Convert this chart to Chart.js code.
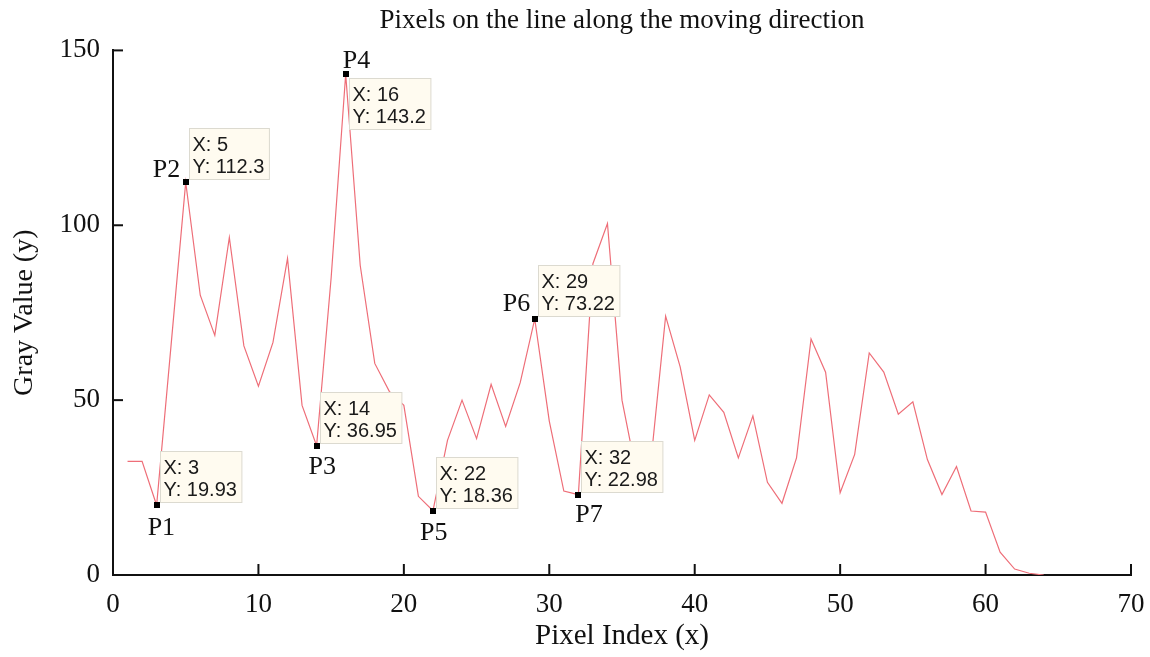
<!DOCTYPE html>
<html>
<head>
<meta charset="utf-8">
<script src="https://cdn.jsdelivr.net/npm/chart.js@4.4.1/dist/chart.umd.min.js"></script>
<style>
  html, body { margin: 0; padding: 0; background: #fff; }
</style>
</head>
<body>
<canvas id="chart" width="1150" height="657"></canvas>
<script>
// pixel index along the moving direction and its gray value
const pixelIndex = [
  1, 2, 3, 4, 5, 6, 7, 8, 9, 10, 11, 12, 13, 14, 15, 16,
  17, 18, 19, 20, 21, 22, 23, 24, 25, 26, 27, 28, 29, 30, 31, 32,
  33, 34, 35, 36, 37, 38, 39, 40, 41, 42, 43, 44, 45, 46, 47, 48,
  49, 50, 51, 52, 53, 54, 55, 56, 57, 58, 59, 60, 61, 62, 63, 64
];
const grayValue = [
  32.5, 32.5, 19.93, 66, 112.3, 80, 68.5, 96.5, 65.5, 54, 66.5, 90.5, 48.5, 36.95, 85, 143.2,
  88.5, 60.5, 52.5, 48.5, 22.5, 18.36, 38.5, 50, 39, 54.5, 42.5, 55, 73.22, 44, 24, 22.98,
  89, 100.5, 50, 29, 33, 74, 59.5, 38.5, 51.5, 46.5, 33.5, 45.5, 26.5, 20.5, 33.5, 67.5,
  58, 23.5, 34.5, 63.5, 58, 46, 49.5, 33, 23, 31, 18.3, 18, 6.5, 1.7, 0.5, 0
];

// marked points (data tips)
const markerNames = ['P1', 'P2', 'P3', 'P4', 'P5', 'P6', 'P7'];
const markerIndex = [3, 5, 14, 16, 22, 29, 32];
const markerValue = [19.93, 112.3, 36.95, 143.2, 18.36, 73.22, 22.98];

const xTicks = [0, 10, 20, 30, 40, 50, 60, 70];
const yTicks = [0, 50, 100, 150];

const serif = "'Liberation Serif', 'Times New Roman', serif";
const sans = "'Liberation Sans', Arial, sans-serif";

// where each P label sits relative to its point (text left / baseline offset)
const labelOffset = {
  P1: [-9, 30], P2: [-33, -5], P3: [-8, 28], P4: [-3, -6],
  P5: [-13, 29], P6: [-32, -8], P7: [-3, 27]
};

// draws the inward tick marks, the data tip boxes and the P labels
const annotations = {
  id: 'annotations',
  afterDatasetsDraw(chart) {
    const { ctx, chartArea, scales: { x, y } } = chart;
    ctx.save();

    // inward ticks
    ctx.strokeStyle = '#111';
    ctx.lineWidth = 2;
    xTicks.forEach(v => {
      const px = x.getPixelForValue(v);
      ctx.beginPath();
      ctx.moveTo(px, chartArea.bottom);
      ctx.lineTo(px, chartArea.bottom - 11);
      ctx.stroke();
    });
    yTicks.forEach(v => {
      const py = y.getPixelForValue(v);
      ctx.beginPath();
      ctx.moveTo(chartArea.left, py);
      ctx.lineTo(chartArea.left + 10, py);
      ctx.stroke();
    });

    // data tips
    ctx.font = '20px ' + sans;
    ctx.textBaseline = 'alphabetic';
    ctx.textAlign = 'left';
    markerNames.forEach((name, i) => {
      const px = x.getPixelForValue(markerIndex[i]);
      const py = y.getPixelForValue(markerValue[i]);
      const l1 = 'X: ' + markerIndex[i];
      const l2 = 'Y: ' + markerValue[i];
      const w = Math.max(ctx.measureText(l1).width, ctx.measureText(l2).width) + 8;
      const h = 51;
      const bx = Math.round(px + 3) + 0.5;
      const by = name === 'P4' ? Math.round(py + 4) + 0.5 : Math.round(py - 3 - h) + 0.5;
      ctx.fillStyle = '#fffbf0';
      ctx.fillRect(bx, by, w, h);
      ctx.strokeStyle = '#dcdad0';
      ctx.lineWidth = 1;
      ctx.strokeRect(bx, by, w, h);
      ctx.fillStyle = '#1a1a1a';
      ctx.fillText(l1, bx + 3, by + 22);
      ctx.fillText(l2, bx + 3, by + 44);
    });

    // black square markers
    ctx.fillStyle = '#000';
    markerNames.forEach((name, i) => {
      const px = x.getPixelForValue(markerIndex[i]);
      const py = y.getPixelForValue(markerValue[i]);
      ctx.fillRect(Math.round(px) - 3, Math.round(py) - 3, 6, 6);
    });

    // P labels
    ctx.font = '26px ' + serif;
    ctx.fillStyle = '#111';
    markerNames.forEach((name, i) => {
      const px = x.getPixelForValue(markerIndex[i]);
      const py = y.getPixelForValue(markerValue[i]);
      const [dx, dy] = labelOffset[name];
      ctx.fillText(name, px + dx, py + dy);
    });

    ctx.restore();
  }
};

const ctx = document.getElementById('chart').getContext('2d');

new Chart(ctx, {
  type: 'line',
  data: {
    datasets: [{
      data: pixelIndex.map((px, i) => ({ x: px, y: grayValue[i] })),
      borderColor: 'rgb(238, 110, 120)',
      borderWidth: 1.2,
      pointRadius: 0,
      tension: 0,
      fill: false,
    }],
  },
  options: {
    responsive: false,
    animation: false,
    devicePixelRatio: 1,
    layout: {
      padding: { top: 0, right: 0, bottom: 0, left: 0 },
    },
    scales: {
      x: {
        type: 'linear',
        min: 0,
        max: 70,
        ticks: {
          stepSize: 10,
          padding: 14,
          color: '#111',
          font: { family: serif, size: 27 },
        },
        grid: { display: false, drawTicks: false },
        border: { display: true, color: '#111', width: 2 },
        title: {
          display: true,
          text: 'Pixel Index (x)',
          color: '#111',
          font: { family: serif, size: 29 },
          padding: { top: 0, bottom: 3 },
        },
        afterFit(scale) {
          scale.height = 82;
          scale.paddingRight = 19; // keep the plot's right edge where the reference has it
        },
      },
      y: {
        min: 0,
        max: 150,
        ticks: {
          stepSize: 50,
          padding: 13,
          color: '#111',
          font: { family: serif, size: 27 },
        },
        grid: { display: false, drawTicks: false },
        border: { display: true, color: '#111', width: 2 },
        title: {
          display: true,
          text: 'Gray Value (y)',
          color: '#111',
          font: { family: serif, size: 28 },
          padding: { top: 8, bottom: 0 },
        },
        afterFit(scale) { scale.width = 113; },
      },
    },
    plugins: {
      legend: { display: false },
      tooltip: { enabled: false },
      title: {
        display: true,
        fullSize: false,
        text: 'Pixels on the line along the moving direction',
        color: '#111',
        font: { family: serif, size: 27, weight: 'normal' },
        padding: { top: 5, bottom: 13 },
      },
    },
  },
  plugins: [annotations],
});
</script>
</body>
</html>
